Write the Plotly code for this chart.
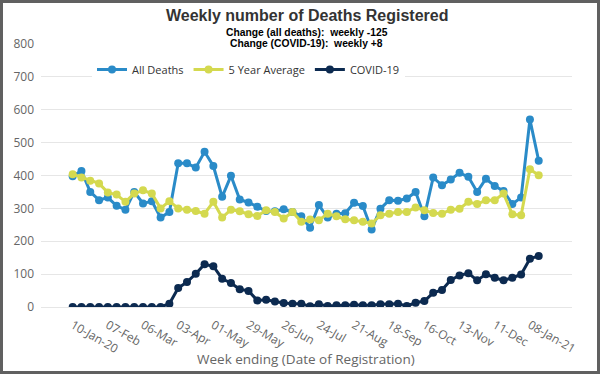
import plotly.graph_objects as go
import pandas as pd

# ---- data -------------------------------------------------------------
week_ending = pd.date_range("2020-01-10", periods=54, freq="7D")

all_deaths = [398, 414, 350, 325, 333, 308, 296, 350, 315, 322,
              272, 289, 437, 437, 424, 472, 429, 335, 399, 327,
              318, 305, 292, 291, 297, 289, 276, 241, 310, 272,
              284, 285, 317, 307, 236, 299, 325, 323, 330, 350,
              276, 394, 370, 388, 408, 396, 350, 390, 368, 353,
              313, 333, 570, 445]

five_year_avg = [404, 394, 384, 376, 348, 342, 320, 345, 355, 345,
                 300, 322, 300, 296, 292, 284, 320, 272, 296, 291,
                 282, 277, 294, 289, 269, 289, 259, 266, 264, 284,
                 276, 267, 264, 259, 254, 279, 284, 289, 289, 303,
                 294, 286, 284, 296, 299, 320, 313, 325, 325, 345,
                 282, 279, 419, 401]

covid = [0, 0, 0, 0, 0, 0, 0, 0, 0, 0,
         0, 10, 58, 76, 101, 130, 124, 86, 73, 54,
         49, 20, 22, 17, 12, 10, 10, 2, 8, 3,
         5, 5, 7, 5, 5, 8, 8, 10, 3, 13,
         18, 43, 52, 82, 96, 103, 81, 100, 89, 81,
         89, 99, 147, 155]

tick_dates = ["2020-01-10", "2020-02-07", "2020-03-06", "2020-04-03",
              "2020-05-01", "2020-05-29", "2020-06-26", "2020-07-24",
              "2020-08-21", "2020-09-18", "2020-10-16", "2020-11-13",
              "2020-12-11", "2021-01-08"]
tick_labels = ["10-Jan-20", "07-Feb", "06-Mar", "03-Apr", "01-May", "29-May",
               "26-Jun", "24-Jul", "21-Aug", "18-Sep", "16-Oct", "13-Nov",
               "11-Dec", "08-Jan-21"]
y_ticks = [0, 100, 200, 300, 400, 500, 600, 700, 800]

series_names = ["All Deaths", "5 Year Average", "COVID-19"]
series_colors = ["#2a8bc8", "#d4d94f", "#0c2a50"]

# ---- figure -------------------------------------------------------------
W, H = 600, 374
ML, MR, MT, MB = 41, 28, 44, 67
PW, PH = W - ML - MR, H - MT - MB

def py(px_from_top):
    return (H - MB - px_from_top) / PH

def px(px_from_left):
    return (px_from_left - ML) / PW

fig = go.Figure()
for name, vals, col in zip(series_names, [all_deaths, five_year_avg, covid], series_colors):
    fig.add_trace(go.Scatter(
        x=week_ending, y=vals, name=name, mode="lines+markers",
        line=dict(color=col, width=3),
        marker=dict(color=col, size=8),
    ))

font_main = "Open Sans, DejaVu Sans, sans-serif"

fig.update_layout(
    width=W, height=H,
    margin=dict(l=ML, r=MR, t=MT, b=MB, pad=0),
    paper_bgcolor="white", plot_bgcolor="white",
    font=dict(family=font_main, color="#666666", size=12),
    showlegend=True,
    legend=dict(
        orientation="h", x=px(92), xanchor="left", y=py(69.5), yanchor="middle",
        bgcolor="white", borderwidth=0,
        font=dict(family=font_main, size=11, color="#333333"),
    ),
    xaxis=dict(
        type="date",
        range=["2019-12-15 19:00", "2021-02-10 12:00"],
        tickvals=tick_dates, ticktext=tick_labels, tickangle=30,
        showgrid=False, zeroline=False, showline=False, ticks="",
        tickfont=dict(family=font_main, size=12, color="#666666"),
        ticklabelstandoff=8,
        automargin=False,
    ),
    yaxis=dict(
        range=[0, 800], tickvals=y_ticks,
        showgrid=True, gridcolor="#e6e6e6", gridwidth=1,
        zeroline=True, zerolinecolor="#e6e6e6", zerolinewidth=1,
        showline=False, ticks="",
        tickfont=dict(family=font_main, size=12, color="#666666"),
        ticklabelstandoff=6,
        automargin=False,
    ),
    annotations=[
        dict(text="<b>Weekly number of Deaths Registered</b>", xref="paper", yref="paper",
             x=0.5, y=py(15.5), xanchor="center", yanchor="middle", showarrow=False,
             font=dict(family="Liberation Sans, Arial, sans-serif", size=16, color="#333333")),
        dict(text="<b>Change (all deaths):\u00a0 weekly -125</b>", xref="paper", yref="paper",
             x=0.5, y=py(33), xanchor="center", yanchor="middle", showarrow=False,
             font=dict(family="Liberation Sans, Arial, sans-serif", size=10.3, color="#000000")),
        dict(text="<b>Change (COVID-19):\u00a0 weekly +8</b>", xref="paper", yref="paper",
             x=0.5, y=py(43), xanchor="center", yanchor="middle", showarrow=False,
             font=dict(family="Liberation Sans, Arial, sans-serif", size=10.3, color="#000000")),
        dict(text="Week ending (Date of Registration)", xref="paper", yref="paper",
             x=px(305.5), y=py(358.5), xanchor="center", yanchor="middle", showarrow=False,
             font=dict(family=font_main, size=13.5, color="#666666")),
    ],
    shapes=[
        dict(type="rect", xref="paper", yref="paper",
             x0=px(0), x1=px(W), y0=py(H), y1=py(0),
             line=dict(color="#606060", width=6), fillcolor="rgba(0,0,0,0)", layer="above"),
    ],
)

fig.write_html(
    "out.html",
    config={"displayModeBar": False},
    post_script="document.body.style.margin='0';document.body.style.overflow='hidden';",
)
